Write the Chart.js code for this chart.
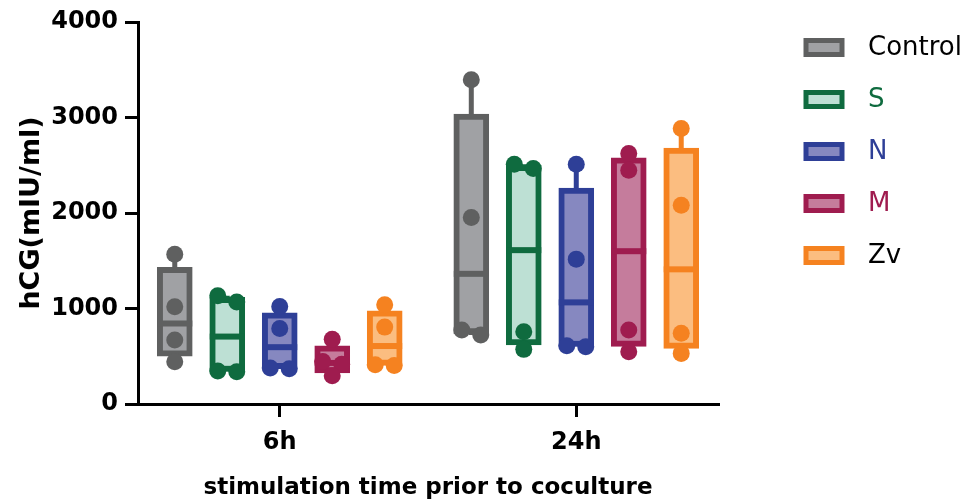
<!DOCTYPE html>
<html>
<head>
<meta charset="utf-8">
<script src="https://cdn.jsdelivr.net/npm/chart.js@4.4.0/dist/chart.umd.min.js"></script>
<style>
  body { margin: 0; background: #fff; }
  #wrap { width: 968px; height: 502px; }
</style>
</head>
<body>
<div id="wrap"><canvas id="hcgChart" width="968" height="502"></canvas></div>
<script>
// Data
const categories = ['6h', '24h'];
const groups = ['Control', 'S', 'N', 'M', 'Zv'];
const yTicks = [0, 1000, 2000, 3000, 4000];

// box stats per time point: [min, q1, median, q3, max]
const controlBox = [[443, 500, 843, 1430, 1569], [722, 735, 1363, 3035, 3396]];
const sBox = [[338, 340, 706, 1116, 1133], [572, 618, 1611, 2499, 2510]];
const nBox = [[368, 370, 595, 955, 1020], [600, 602, 1064, 2260, 2510]];
const mBox = [[295, 325, 430, 610, 677], [547, 604, 1600, 2578, 2622]];
const zvBox = [[402, 404, 607, 976, 1040], [530, 582, 1410, 2680, 2884]];

// individual replicates per time point
const controlPts = [[1569, 1018, 669, 443], [3396, 1953, 774, 722]];
const sPts = [[1133, 1067, 345, 338], [2510, 2465, 757, 572]];
const nPts = [[1020, 790, 378, 368], [2510, 1517, 610, 600]];
const mPts = [[677, 445, 415, 295], [2622, 2448, 774, 547]];
const zvPts = [[1040, 805, 410, 402], [2884, 2082, 740, 530]];

const borderColors = ['#5f6060', '#0f6b3f', '#2e3f97', '#9f1c4f', '#f58220'];
const fillColors = ['#a0a1a4', '#bde0d4', '#8688c0', '#c57c9c', '#fbbd80'];
const labelColors = ['#000000', '#0f6b3f', '#2e3f97', '#9f1c4f', '#000000'];

const FONT = 'DejaVu Sans';
const offsets = [-0.354, -0.177, 0, 0.177, 0.354];
const boxes = [controlBox, sBox, nBox, mBox, zvBox];
const points = [controlPts, sPts, nPts, mPts, zvPts];

// spread near-equal replicates sideways, like the original scatter
function spread(vals, cx) {
    const out = [];
    let paired = false;
    vals.forEach((v, k) => {
        if (k > 0 && !paired && Math.abs(vals[k - 1] - v) < 120) {
            out[k - 1].x = cx - 0.032;
            out.push({ x: cx + 0.032, y: v });
            paired = true;
        } else {
            out.push({ x: cx, y: v });
            paired = false;
        }
    });
    return out;
}

const boxSets = groups.map((g, i) => ({
    type: 'bar',
    label: g,
    order: 2,
    data: boxes[i].map((b, t) => ({ x: t + offsets[i], y: [b[1], b[3]] })),
    stats: boxes[i],
    backgroundColor: fillColors[i],
    borderColor: borderColors[i],
    borderWidth: 6,
    borderSkipped: false,
    barThickness: 35,
    grouped: false
}));

const pointSets = groups.map((g, i) => ({
    type: 'scatter',
    label: g + ' values',
    order: 1,
    data: points[i].flatMap((vals, t) => spread(vals, t + offsets[i])),
    pointRadius: 8.5,
    backgroundColor: borderColors[i],
    borderWidth: 0
}));

// whiskers behind the boxes, median line on top of each box
const boxPlotLines = {
    id: 'boxPlotLines',
    beforeDatasetsDraw(chart) {
        const { ctx, scales: { x, y } } = chart;
        chart.data.datasets.forEach(ds => {
            if (!ds.stats) return;
            ctx.save();
            ctx.strokeStyle = ds.borderColor;
            ctx.lineWidth = 5;
            ds.stats.forEach((s, t) => {
                const px = x.getPixelForValue(ds.data[t].x);
                ctx.beginPath();
                ctx.moveTo(px, y.getPixelForValue(s[0]));
                ctx.lineTo(px, y.getPixelForValue(s[1]));
                ctx.moveTo(px, y.getPixelForValue(s[3]));
                ctx.lineTo(px, y.getPixelForValue(s[4]));
                ctx.stroke();
            });
            ctx.restore();
        });
    },
    afterDatasetDraw(chart, args) {
        const ds = chart.data.datasets[args.index];
        if (!ds.stats) return;
        const { ctx, scales: { y } } = chart;
        ctx.save();
        ctx.fillStyle = ds.borderColor;
        args.meta.data.forEach((bar, t) => {
            const { x, width } = bar.getProps(['x', 'width'], true);
            const py = y.getPixelForValue(ds.stats[t][2]);
            ctx.fillRect(x - width / 2, py - 3, width, 6);
        });
        ctx.restore();
    }
};

// legend drawn beside the plot (box + coloured name)
const sideLegend = {
    id: 'sideLegend',
    afterDraw(chart) {
        const { ctx, chartArea } = chart;
        const x0 = chartArea.right + 88;
        const y0 = chartArea.top + 25.5;
        ctx.save();
        groups.forEach((g, i) => {
            const yc = y0 + i * 52;
            ctx.fillStyle = fillColors[i];
            ctx.fillRect(x0, yc - 7, 36, 14);
            ctx.strokeStyle = borderColors[i];
            ctx.lineWidth = 5;
            ctx.strokeRect(x0, yc - 7, 36, 14);
            ctx.fillStyle = labelColors[i];
            ctx.font = '26px "' + FONT + '"';
            ctx.textBaseline = 'middle';
            ctx.fillText(g, chartArea.right + 150, yc + 1);
        });
        ctx.restore();
    }
};

const ctx = document.getElementById('hcgChart').getContext('2d');
const hcgChart = new Chart(ctx, {
    type: 'bar',
    data: { datasets: [...boxSets, ...pointSets] },
    options: {
        responsive: false,
        animation: false,
        events: [],
        layout: { padding: { left: 0, right: 250, top: 22, bottom: 0 } },
        scales: {
            x: {
                type: 'linear',
                min: -0.478,
                max: 1.478,
                offset: false,
                afterBuildTicks: scale => { scale.ticks = categories.map((c, i) => ({ value: i })); },
                afterFit: scale => { scale.height = 98; },
                ticks: {
                    callback: value => categories[value],
                    color: '#000',
                    padding: 11,
                    maxRotation: 0,
                    font: { family: FONT, size: 24, weight: 'bold' }
                },
                grid: { offset: false, drawOnChartArea: false, drawTicks: true, tickLength: 13, color: '#000', lineWidth: 3 },
                border: { display: true, color: '#000', width: 3 },
                title: {
                    display: true,
                    text: 'stimulation time prior to coculture',
                    color: '#000',
                    padding: { top: 0, bottom: 0 },
                    font: { family: FONT, size: 23, weight: 'bold' }
                }
            },
            y: {
                min: 0,
                max: 4000,
                afterBuildTicks: scale => { scale.ticks = yTicks.map(v => ({ value: v })); },
                afterFit: scale => { scale.width = 138; },
                ticks: {
                    callback: value => String(value),
                    color: '#000',
                    padding: 7,
                    font: { family: FONT, size: 24, weight: 'bold' }
                },
                grid: { drawOnChartArea: false, drawTicks: true, tickLength: 13, color: '#000', lineWidth: 3 },
                border: { display: true, color: '#000', width: 3 },
                title: {
                    display: true,
                    text: 'hCG(mIU/ml)',
                    color: '#000',
                    padding: { top: 16, bottom: 0 },
                    font: { family: FONT, size: 27, weight: 'bold' }
                }
            }
        },
        plugins: {
            legend: { display: false },
            tooltip: { enabled: false }
        }
    },
    plugins: [boxPlotLines, sideLegend]
});
</script>
</body>
</html>
